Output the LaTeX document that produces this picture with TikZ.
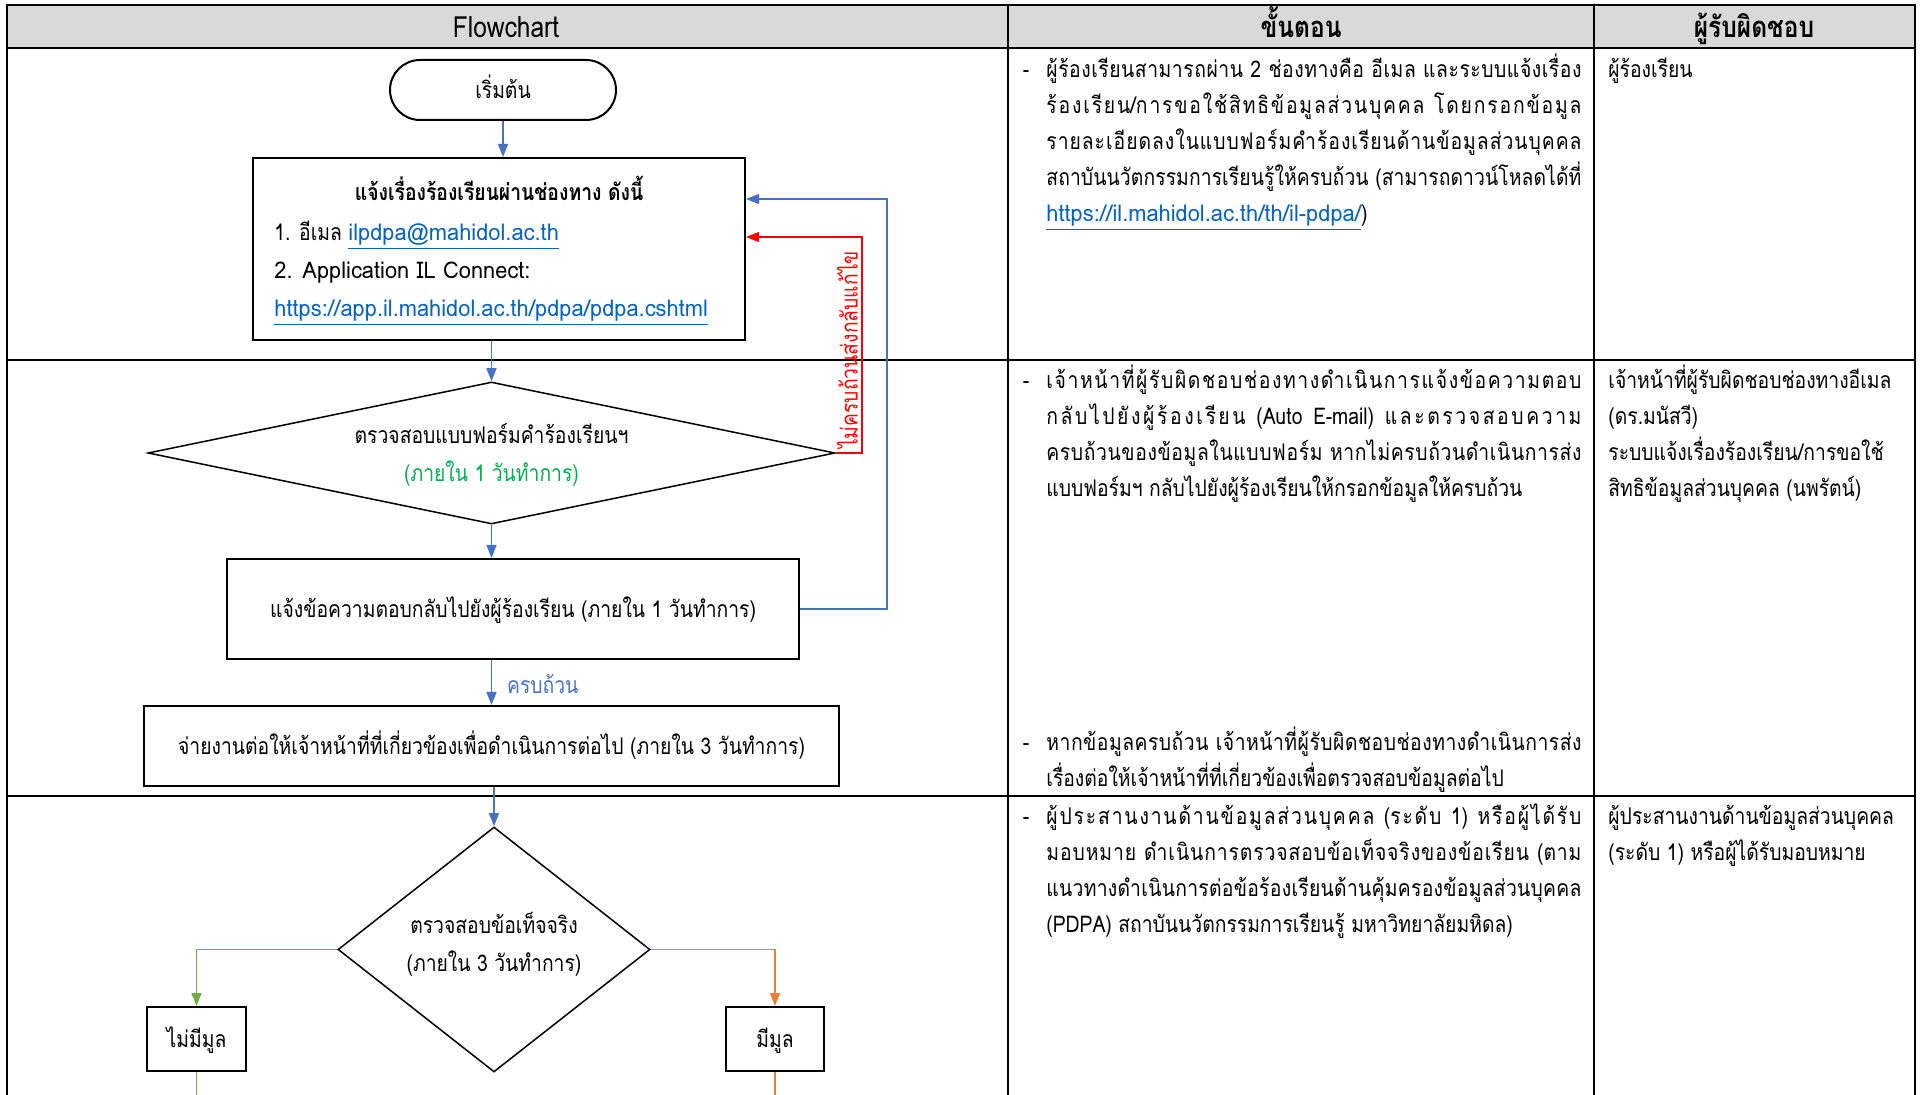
\documentclass[tikz,border=0pt]{standalone}
\usepackage{fontspec}
\setmainfont[Script=Thai,FakeStretch=0.84]{Loma}
\newfontfamily\latinfont[FakeStretch=0.95]{Loma}
\newcommand{\thaiclass}[3]{\count255=#1 \loop\XeTeXcharclass\count255=#3 \ifnum\count255<#2 \advance\count255 by 1 \repeat}
\thaiclass{"0E01}{"0E30}{7}
\thaiclass{"0E32}{"0E32}{7}
\thaiclass{"0E40}{"0E46}{7}
\thaiclass{"0E4F}{"0E5B}{7}
\thaiclass{"0E31}{"0E31}{8}
\thaiclass{"0E33}{"0E3A}{8}
\thaiclass{"0E47}{"0E4E}{8}
\XeTeXinterchartoks 7 7 = {\nobreak\hskip0pt plus 1pt\relax}
\XeTeXinterchartoks 8 7 = {\nobreak\hskip0pt plus 1pt\relax}
\XeTeXinterchartokenstate=1
\usetikzlibrary{arrows.meta,shapes.geometric}
\definecolor{fcblue}{HTML}{4472C4}
\definecolor{fcgreen}{HTML}{70AD47}
\definecolor{fcorange}{HTML}{ED7D31}
\definecolor{daygreen}{HTML}{00B050}
\definecolor{linkblue}{HTML}{0563C1}
\definecolor{headgray}{HTML}{D9D9D9}
\newcommand{\lnk}[1]{\textcolor{linkblue}{\underline{\latinfont #1}}}
\newcommand{\dashitem}{\noindent\strut\llap{-\hspace{8.5pt}}}
\begin{document}
\begin{tikzpicture}[x=0.5pt,y=-0.5pt,font=\fontsize{11.5}{18}\selectfont,
  lbl/.style={inner sep=0pt,text height=10pt,text depth=1.5pt},
  box/.style={lbl,draw,line width=1pt,align=center},
  dia/.style={draw,diamond,inner sep=0pt,line width=0.75pt},
  grid/.style={line width=1pt},
  head/.style={lbl,font=\fontsize{14.6}{16}\selectfont},
  para/.style={anchor=north west,inner sep=0pt,text width=267.5pt,align=justify},
  duty/.style={anchor=north west,inner sep=0pt,align=left},
  flow/.style={line width=0.6pt,-{Triangle[length=6.5pt,width=5pt]}}]
\useasboundingbox (0,0) rectangle (1923,1095);
\path
(7,5) coordinate (TL)
(1915,48) coordinate (HR)
(0,1095) coordinate (cutoff)
(887,199) coordinate (backtop)
(862,237) coordinate (redtop)
;
\fill[headgray] (TL) rectangle (HR);
\draw[grid] (7,1095) -- (TL) -- (1915,5) -- (1915,1095)
  (7,48) -- (HR) (7,360) -- (1915,360) (7,796) -- (1915,796)
  (1008,5) -- (1008,1095) (1594,5) -- (1594,1095);
\node[head] (hflow) at (506,29) {Flowchart};
\node[head,font=\fontsize{14.6}{16}\selectfont\bfseries] (hstep) at (1301,29) {ขั้นตอน};
\node[head,font=\fontsize{14.6}{16}\selectfont\bfseries] (hduty) at (1754,29) {ผู้รับผิดชอบ};

\node[box,rounded corners=15pt,minimum width=113pt,minimum height=30pt] (start) at (503,90) {เริ่มต้น};
\node[box,minimum width=246pt,minimum height=91pt] (notify) at (499,249) {};
\node[lbl,font=\fontsize{11.5}{18}\selectfont\bfseries] (ntitle) at (499,192) {แจ้งเรื่องร้องเรียนผ่านช่องทาง ดังนี้};
\node[lbl,anchor=west] (nmail) at (274,232) {1. อีเมล \lnk{ilpdpa@mahidol.ac.th}};
\node[lbl,anchor=west] (napp) at (274,270) {\latinfont 2. Application IL Connect:};
\node[lbl,anchor=west] (nurl) at (274,308) {\lnk{https://app.il.mahidol.ac.th/pdpa/pdpa.cshtml}};
\node[dia,minimum width=343.5pt,minimum height=71pt] (formchk) at (491.5,453) {};
\node[lbl] (formtxt) at (491.5,435) {ตรวจสอบแบบฟอร์มคำร้องเรียนฯ};
\node[lbl,text=daygreen] (formday) at (491.5,473) {(ภายใน 1 วันทำการ)};
\node[box,minimum width=286pt,minimum height=50pt] (reply) at (513,609) {แจ้งข้อความตอบกลับไปยังผู้ร้องเรียน (ภายใน 1 วันทำการ)};
\node[box,minimum width=347.5pt,minimum height=40pt] (assign) at (491.5,746) {จ่ายงานต่อให้เจ้าหน้าที่ที่เกี่ยวข้องเพื่อดำเนินการต่อไป (ภายใน 3 วันทำการ)};
\node[dia,minimum width=156pt,minimum height=122.5pt] (factchk) at (494,949.5) {};
\node[lbl] (facttxt) at (494,925) {ตรวจสอบข้อเท็จจริง};
\node[lbl] (factday) at (494,963) {(ภายใน 3 วันทำการ)};
\node[box,minimum width=49.5pt,minimum height=32pt] (nomul) at (196.5,1039) {ไม่มีมูล};
\node[box,minimum width=49pt,minimum height=32pt] (mul) at (775,1039) {มีมูล};

\draw[flow,fcblue] (start.south) -- (start.south |- notify.north);
\draw[flow,fcblue] (formchk.north |- notify.south) -- (formchk.north);
\draw[flow,fcblue] (formchk.south) -- (formchk.south |- reply.north);
\draw[flow,fcblue] (reply.east) -| (backtop) -- (notify.east |- backtop);
\draw[flow,red] (formchk.east) -| (redtop) -- (notify.east |- redtop);
\node[lbl,rotate=90,text=red] (redlbl) at (849,350) {ไม่ครบถ้วนส่งกลับแก้ไข};
\draw[flow,fcblue] (formchk.south |- reply.south) -- (formchk.south |- assign.north)
  node (okay) [pos=0.55,lbl,anchor=west,xshift=7.5pt,text=fcblue] {ครบถ้วน};
\draw[flow,fcblue] (factchk.north |- assign.south) -- (factchk.north);
\draw[flow,fcgreen] (factchk.west) -| (nomul.north);
\draw[flow,fcorange] (factchk.east) -| (mul.north);
\draw[fcgreen,line width=0.6pt] (nomul.south) -- (nomul.south |- cutoff);
\draw[fcorange,line width=0.6pt] (mul.south) -- (mul.south |- cutoff);

\node[para] (step1) at (1046,52) {\dashitem ผู้ร้องเรียนสามารถผ่าน 2 ช่องทางคือ อีเมล และระบบแจ้งเรื่อง\linebreak
ร้องเรียน/การขอใช้สิทธิข้อมูลส่วนบุคคล โดยกรอกข้อมูล\linebreak
รายละเอียดลงในแบบฟอร์มคำร้องเรียนด้านข้อมูลส่วนบุคคล\linebreak
สถาบันนวัตกรรมการเรียนรู้ให้ครบถ้วน (สามารถดาวน์โหลดได้ที่\linebreak
\lnk{https://il.mahidol.ac.th/th/il-pdpa/})};
\node[para] (step2) at (1046,363) {\dashitem เจ้าหน้าที่ผู้รับผิดชอบช่องทางดำเนินการแจ้งข้อความตอบ\linebreak
กลับไปยังผู้ร้องเรียน (Auto E-mail) และตรวจสอบความ\linebreak
ครบถ้วนของข้อมูลในแบบฟอร์ม หากไม่ครบถ้วนดำเนินการส่ง\linebreak
แบบฟอร์มฯ กลับไปยังผู้ร้องเรียนให้กรอกข้อมูลให้ครบถ้วน};
\node[para] (step3) at (1046,725) {\dashitem หากข้อมูลครบถ้วน เจ้าหน้าที่ผู้รับผิดชอบช่องทางดำเนินการส่ง\linebreak
เรื่องต่อให้เจ้าหน้าที่ที่เกี่ยวข้องเพื่อตรวจสอบข้อมูลต่อไป};
\node[para] (step4) at (1046,799) {\dashitem ผู้ประสานงานด้านข้อมูลส่วนบุคคล (ระดับ 1) หรือผู้ได้รับ\linebreak
มอบหมาย ดำเนินการตรวจสอบข้อเท็จจริงของข้อเรียน (ตาม\linebreak
แนวทางดำเนินการต่อข้อร้องเรียนด้านคุ้มครองข้อมูลส่วนบุคคล\linebreak
(PDPA) สถาบันนวัตกรรมการเรียนรู้ มหาวิทยาลัยมหิดล)};

\node[duty] (duty1) at (1608,52) {\strut ผู้ร้องเรียน};
\node[duty] (duty2) at (1608,363) {\strut เจ้าหน้าที่ผู้รับผิดชอบช่องทางอีเมล\\(ดร.มนัสวี)\\ระบบแจ้งเรื่องร้องเรียน/การขอใช้\\สิทธิข้อมูลส่วนบุคคล (นพรัตน์)};
\node[duty] (duty3) at (1608,799) {\strut ผู้ประสานงานด้านข้อมูลส่วนบุคคล\\(ระดับ 1) หรือผู้ได้รับมอบหมาย};
\end{tikzpicture}
\end{document}
